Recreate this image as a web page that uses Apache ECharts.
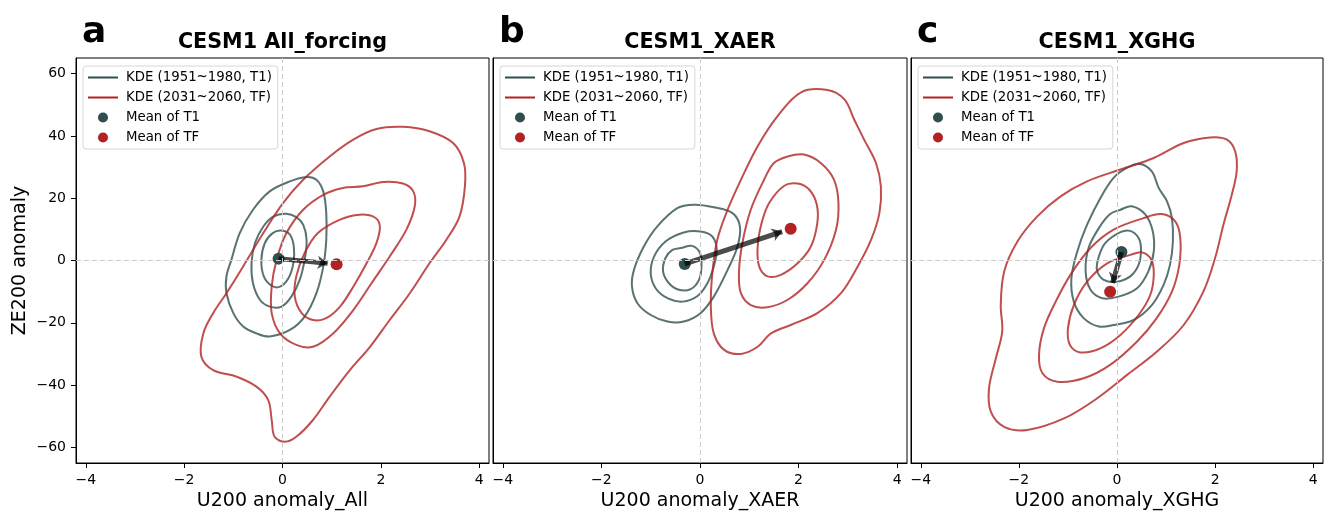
<!DOCTYPE html>
<html>
<head>
<meta charset="utf-8">
<script src="https://cdn.jsdelivr.net/npm/echarts@6/dist/echarts.min.js"></script>
<style>
  html, body { margin: 0; padding: 0; background: #fff; }
  #main { width: 1327px; height: 513px; }
</style>
</head>
<body>
<div id="main"></div>
<script>
// KDE contour lines, points are [U200 anomaly, ZE200 anomaly]
// panel a: CESM1 All_forcing
const aT1Outer = [[0.69,25.9],[0.83,22.1],[0.89,15.2],[0.89,6.6],[0.83,-1.9],[0.69,-10.5],[0.45,-18.0],[0.15,-22.3],[-0.26,-24.4],[-0.53,-23.4],[-0.80,-21.2],[-1.00,-16.9],[-1.14,-10.5],[-1.14,-5.1],[-1.04,0.2],[-0.87,8.8],[-0.60,16.3],[-0.26,22.2],[0.15,25.4],[0.49,26.8]];
const aT1Mid = [[0.08,15.0],[0.28,13.9],[0.42,11.5],[0.49,6.6],[0.45,0.2],[0.35,-6.2],[0.18,-11.6],[-0.02,-14.8],[-0.26,-14.8],[-0.46,-12.6],[-0.60,-7.3],[-0.63,-0.9],[-0.56,5.6],[-0.39,10.9],[-0.19,14.1]];
const aT1Inner = [[-0.02,9.6],[0.15,8.3],[0.23,4.5],[0.22,-0.9],[0.12,-5.7],[-0.05,-8.4],[-0.22,-8.1],[-0.38,-5.1],[-0.43,0.2],[-0.36,5.6],[-0.20,8.8]];
const aTFOuter = [[1.91,42.2],[2.45,42.9],[2.99,41.5],[3.47,37.7],[3.69,31.3],[3.71,23.8],[3.60,14.1],[3.33,6.6],[2.99,-0.9],[2.59,-10.5],[2.18,-19.1],[1.78,-27.7],[1.37,-35.2],[0.96,-43.7],[0.62,-51.2],[0.28,-56.6],[0.05,-58.2],[-0.16,-56.6],[-0.22,-51.2],[-0.29,-44.8],[-0.53,-40.5],[-0.93,-37.3],[-1.41,-35.2],[-1.65,-30.9],[-1.61,-23.4],[-1.41,-16.9],[-1.14,-10.5],[-0.80,-1.9],[-0.39,8.8],[0.01,18.4],[0.42,25.9],[0.96,33.4],[1.44,38.8]];
const aTFMid = [[1.64,23.8],[2.05,25.2],[2.45,24.7],[2.66,22.2],[2.69,17.4],[2.52,9.9],[2.18,1.3],[1.81,-7.3],[1.44,-15.9],[1.03,-23.4],[0.62,-27.7],[0.28,-27.1],[-0.05,-23.4],[-0.22,-16.9],[-0.22,-8.4],[-0.12,0.2],[0.08,8.8],[0.42,16.3],[0.83,21.1],[1.23,23.3]];
const aTFInner = [[1.17,13.1],[1.57,14.7],[1.88,13.8],[1.98,10.9],[1.91,5.6],[1.71,-0.9],[1.44,-8.4],[1.17,-14.8],[0.89,-18.5],[0.62,-19.1],[0.39,-16.9],[0.25,-11.6],[0.28,-5.1],[0.45,2.4],[0.72,8.8]];
const aMeanT1 = [-0.08, 0.6];
const aMeanTF = [1.10, -1.2];

// panel b: CESM1_XAER
const bT1Outer = [[-0.46,16.8],[-0.12,17.9],[0.28,17.1],[0.66,15.2],[0.81,10.9],[0.76,4.5],[0.56,-3.0],[0.28,-11.6],[0.01,-16.9],[-0.33,-19.6],[-0.66,-19.6],[-1.00,-17.5],[-1.27,-13.7],[-1.38,-8.4],[-1.34,-3.0],[-1.14,4.5],[-0.87,10.9]];
const bT1Mid = [[-0.33,9.0],[0.01,9.3],[0.25,7.7],[0.34,3.4],[0.28,-1.9],[0.15,-7.3],[-0.05,-11.4],[-0.35,-13.2],[-0.66,-12.1],[-0.90,-8.9],[-1.00,-4.1],[-0.93,1.3],[-0.70,6.1]];
const bT1Inner = [[-0.39,4.0],[-0.16,4.7],[0.00,2.4],[0.03,-1.9],[-0.02,-6.2],[-0.19,-9.2],[-0.43,-9.4],[-0.63,-7.3],[-0.75,-3.5],[-0.70,0.8],[-0.56,3.4]];
const bTFOuter = [[2.05,54.0],[2.59,54.7],[2.93,51.7],[3.13,45.2],[3.33,38.8],[3.57,31.3],[3.67,23.8],[3.64,15.2],[3.47,6.6],[3.20,-1.9],[2.86,-10.5],[2.38,-16.9],[1.84,-20.7],[1.44,-23.4],[1.17,-27.7],[0.83,-30.0],[0.49,-28.7],[0.28,-23.4],[0.22,-14.8],[0.25,-4.1],[0.35,6.6],[0.56,16.3],[0.83,25.9],[1.17,36.7],[1.57,46.3]];
const bTFMid = [[1.78,33.4],[2.11,34.0],[2.45,31.3],[2.72,25.9],[2.81,18.4],[2.76,9.9],[2.52,0.2],[2.18,-7.3],[1.78,-12.6],[1.37,-15.0],[1.03,-14.3],[0.83,-10.5],[0.79,-4.1],[0.86,5.6],[1.03,16.3],[1.30,25.9],[1.50,31.3]];
const bTFInner = [[1.71,24.0],[1.98,24.7],[2.22,22.7],[2.37,17.9],[2.38,12.0],[2.25,4.5],[1.98,-0.9],[1.64,-4.6],[1.37,-5.1],[1.20,-1.9],[1.17,4.5],[1.25,12.0],[1.40,18.4]];
const bMeanT1 = [-0.31, -1.1];
const bMeanTF = [1.84, 10.2];

// panel c: CESM1_XGHG
const cT1Outer = [[0.20,29.7],[0.47,31.0],[0.71,28.6],[0.85,23.3],[1.02,19.0],[1.12,13.6],[1.14,6.1],[1.08,-1.4],[0.95,-7.8],[0.71,-14.3],[0.34,-19.1],[-0.07,-20.7],[-0.37,-21.2],[-0.68,-18.5],[-0.88,-13.2],[-0.93,-5.7],[-0.81,2.9],[-0.61,11.5],[-0.34,20.0],[-0.07,26.5]];
const cT1Mid = [[0.07,16.3],[0.30,17.4],[0.58,14.7],[0.73,9.3],[0.75,2.9],[0.64,-3.5],[0.41,-8.9],[0.03,-11.6],[-0.30,-12.1],[-0.54,-9.4],[-0.64,-3.5],[-0.58,4.0],[-0.37,10.4],[-0.14,14.9]];
const cT1Inner = [[0.07,9.1],[0.27,9.5],[0.44,7.2],[0.49,3.4],[0.44,-1.4],[0.27,-5.1],[0.00,-6.8],[-0.27,-6.2],[-0.41,-3.0],[-0.37,1.3],[-0.24,5.6]];
const cTFOuter = [[1.90,39.5],[2.24,38.8],[2.41,35.0],[2.44,28.6],[2.34,21.1],[2.17,11.5],[2.00,0.8],[1.76,-10.0],[1.36,-20.7],[0.81,-29.3],[0.20,-36.8],[-0.41,-44.3],[-1.08,-50.7],[-1.83,-54.4],[-2.30,-53.4],[-2.57,-48.6],[-2.61,-41.1],[-2.47,-31.4],[-2.34,-22.8],[-2.37,-14.3],[-2.30,-3.5],[-2.03,6.1],[-1.63,14.1],[-1.15,20.6],[-0.61,25.4],[0.07,29.2],[0.75,32.9],[1.36,37.7]];
const cTFMid = [[0.54,13.6],[0.91,14.9],[1.19,12.5],[1.29,7.2],[1.27,-1.4],[1.12,-10.0],[0.81,-18.5],[0.41,-26.0],[-0.14,-33.5],[-0.68,-37.8],[-1.22,-38.9],[-1.52,-36.2],[-1.59,-30.3],[-1.49,-21.8],[-1.25,-13.2],[-0.95,-4.6],[-0.54,4.0],[-0.07,9.9]];
const cTFInner = [[0.27,1.8],[0.51,2.6],[0.70,0.2],[0.75,-4.6],[0.68,-11.0],[0.44,-17.5],[0.07,-23.9],[-0.34,-28.2],[-0.75,-29.5],[-0.96,-27.1],[-1.00,-21.8],[-0.88,-14.3],[-0.61,-6.8],[-0.20,-0.9]];
const cMeanT1 = [0.09, 2.7];
const cMeanTF = [-0.14, -10.0];

const panelLetters = ["a", "b", "c"];
const panelTitles = ["CESM1 All_forcing", "CESM1_XAER", "CESM1_XGHG"];
const xNames = ["U200 anomaly_All", "U200 anomaly_XAER", "U200 anomaly_XGHG"];
const yName = "ZE200 anomaly";
const xTicks = [-4, -2, 0, 2, 4];
const yTicks = [-60, -40, -20, 0, 20, 40, 60];
const legendNames = ["KDE (1951~1980, T1)", "KDE (2031~2060, TF)", "Mean of T1", "Mean of TF"];

const panels = [
  { t1: [aT1Outer, aT1Mid, aT1Inner], tf: [aTFOuter, aTFMid, aTFInner], m1: aMeanT1, mf: aMeanTF },
  { t1: [bT1Outer, bT1Mid, bT1Inner], tf: [bTFOuter, bTFMid, bTFInner], m1: bMeanT1, mf: bMeanTF },
  { t1: [cT1Outer, cT1Mid, cT1Inner], tf: [cTFOuter, cTFMid, cTFInner], m1: cMeanT1, mf: cMeanTF },
];

const X_MIN = -4.2, X_MAX = 4.2, Y_MIN = -65, Y_MAX = 65;
const GRID_TOP = 58, GRID_H = 405;
const gridLeft = [76, 493, 911];
const gridW = [413, 414, 412];

const T1_COLOR = "#2f4f4f";
const TF_COLOR = "#b22222";
const LINE_ICON = "path://M0,0H30V2H0Z";
const minus = (v) => String(v).replace("-", "\u2212");

// arrow stops a few pixels before the TF mean marker
function arrowEnd(a, b, gw) {
  const sx = gw / (X_MAX - X_MIN), sy = GRID_H / (Y_MAX - Y_MIN);
  const len = Math.hypot((b[0] - a[0]) * sx, (b[1] - a[1]) * sy);
  const f = 1 - 9 / len;
  return [a[0] + (b[0] - a[0]) * f, a[1] + (b[1] - a[1]) * f];
}

// one closed, smoothed contour drawn through the axis scales
function contourSeries(i, pts, color, name) {
  return {
    name, type: "custom", xAxisIndex: i, yAxisIndex: i, data: pts,
    itemStyle: { color }, silent: true, z: 2,
    renderItem: (params, api) => {
      if (params.dataIndex !== 0) return null;
      return {
        type: "polygon",
        shape: { points: pts.map((p) => api.coord(p)), smooth: 0.35 },
        style: { fill: "none", stroke: color, lineWidth: 2, opacity: 0.8 },
      };
    },
  };
}

const chart = echarts.init(document.getElementById("main"), null, { renderer: "canvas" });

const grid = [], xAxis = [], yAxis = [], series = [], legend = [], graphic = [];

panels.forEach((p, i) => {
  grid.push({
    left: gridLeft[i], top: GRID_TOP, width: gridW[i], height: GRID_H,
    outerBoundsMode: "none", containLabel: false,
    show: true, borderColor: "#000", borderWidth: 1, backgroundColor: "transparent",
  });
  xAxis.push({
    type: "value", gridIndex: i, min: X_MIN, max: X_MAX,
    splitLine: { show: false },
    axisLine: { show: true, onZero: false, lineStyle: { color: "#000", width: 1 } },
    axisTick: { show: true, customValues: xTicks, length: 5, lineStyle: { color: "#000" } },
    axisLabel: { customValues: xTicks, formatter: minus, color: "#000", fontSize: 14, margin: 10 },
    name: xNames[i], nameLocation: "middle", nameGap: 25,
    nameTextStyle: { fontSize: 19, color: "#000" },
  });
  yAxis.push({
    type: "value", gridIndex: i, min: Y_MIN, max: Y_MAX,
    splitLine: { show: false },
    axisLine: { show: true, onZero: false, lineStyle: { color: "#000", width: 1 } },
    axisTick: { show: i === 0, customValues: yTicks, length: 5, lineStyle: { color: "#000" } },
    axisLabel: { show: i === 0, customValues: yTicks, formatter: minus, color: "#000", fontSize: 14, margin: 10 },
    name: i === 0 ? yName : "", nameLocation: "middle", nameGap: 46,
    nameTextStyle: { fontSize: 19, color: "#000" },
  });

  // zero reference lines
  series.push({
    type: "line", xAxisIndex: i, yAxisIndex: i, data: [], silent: true, z: 1,
    markLine: {
      silent: true, symbol: "none", label: { show: false }, animation: false,
      lineStyle: { type: [5, 3], color: "#cccccc", width: 1 },
      data: [{ xAxis: 0 }, { yAxis: 0 }],
    },
  });

  p.t1.forEach((pts) => series.push(contourSeries(i, pts, T1_COLOR, legendNames[0])));
  p.tf.forEach((pts) => series.push(contourSeries(i, pts, TF_COLOR, legendNames[1])));

  series.push({
    name: legendNames[2], type: "scatter", xAxisIndex: i, yAxisIndex: i,
    data: [p.m1], symbolSize: 12, itemStyle: { color: T1_COLOR, opacity: 1 }, z: 3,
  });
  series.push({
    name: legendNames[3], type: "scatter", xAxisIndex: i, yAxisIndex: i,
    data: [p.mf], symbolSize: 12, itemStyle: { color: TF_COLOR, opacity: 1 }, z: 3,
  });
  series.push({
    type: "lines", coordinateSystem: "cartesian2d", xAxisIndex: i, yAxisIndex: i,
    symbol: ["none", "arrow"], symbolSize: 10,
    lineStyle: { color: "#000", width: 5, opacity: 0.7, curveness: 0 },
    data: [{ coords: [p.m1, arrowEnd(p.m1, p.mf, gridW[i])] }],
    silent: true, z: 4,
  });

  legend.push({
    left: gridLeft[i] + 7, top: 66, orient: "vertical",
    data: legendNames.map((n, k) => ({ name: n, icon: k < 2 ? LINE_ICON : "circle" })),
    itemWidth: 30, itemHeight: 10, itemGap: 7,
    padding: [5, 6, 5, 5],
    backgroundColor: "rgba(255,255,255,0.8)",
    borderColor: "#d6d6d6", borderWidth: 1, borderRadius: 3,
    selectedMode: false,
    textStyle: { color: "#000", fontSize: 13.3, lineHeight: 13, padding: [0, 0, 0, 3] },
  });

  graphic.push({
    type: "text", x: gridLeft[i] + 6, y: 33,
    style: { text: panelLetters[i], font: "bold 36px 'DejaVu Sans'", fill: "#000", align: "left", verticalAlign: "middle" },
  });
  graphic.push({
    type: "text", x: gridLeft[i] + gridW[i] / 2, y: 43,
    style: { text: panelTitles[i], font: "bold 20.7px 'DejaVu Sans'", fill: "#000", align: "center", verticalAlign: "middle" },
  });
});

chart.setOption({
  animation: false,
  backgroundColor: "#fff",
  textStyle: { fontFamily: "DejaVu Sans" },
  grid, xAxis, yAxis, series, legend, graphic,
});
</script>
</body>
</html>
